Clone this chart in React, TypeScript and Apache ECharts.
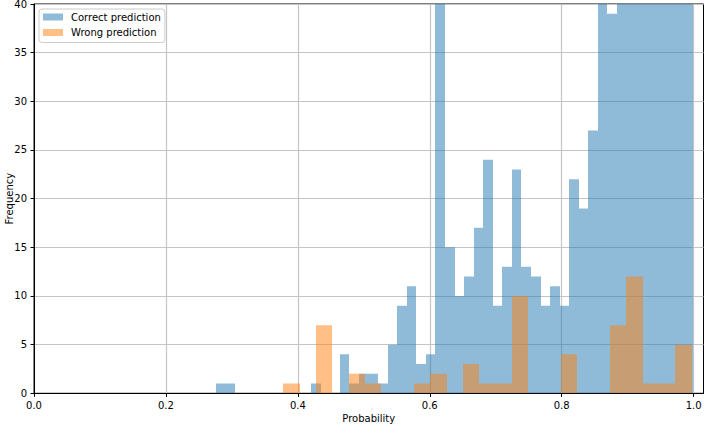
import React, { useEffect, useRef } from "react";
import * as echarts from "echarts";

// Histogram of "Correct prediction": 50 bins between blueRange[0] and blueRange[1]
const blueRange = [0.2755, 0.9996];
const blueCounts = [
  1, 1, 0, 0, 0, 0, 0, 0, 0, 0,
  1, 0, 0, 4, 1, 2, 2, 1, 5, 9,
  11, 3, 4, 44, 15, 10, 12, 17, 24, 9,
  13, 23, 13, 12, 9, 11, 9, 22, 19, 27,
  42, 39, 46, 55, 63, 78, 96, 124, 168, 260,
];

// Histogram of "Wrong prediction": 25 bins between orangeRange[0] and orangeRange[1]
const orangeRange = [0.3779, 0.9973];
const orangeCounts = [
  1, 0, 7, 0, 2, 1, 0, 0, 1, 2,
  0, 3, 1, 1, 10, 0, 0, 4, 0, 0,
  7, 12, 1, 1, 5,
];

const seriesNames = ["Correct prediction", "Wrong prediction"];
const xTicks = [0, 0.2, 0.4, 0.6, 0.8, 1.0];
const xMax = 1.015;
const yMax = 40;

const BLUE = "rgba(31,119,180,0.5)";
const ORANGE = "rgba(255,127,14,0.5)";
const FONT = "DejaVu Sans";
const GRID = "#c4c4c4";

function binsOf(range: number[], counts: number[]) {
  const n = counts.length;
  const w = (range[1] - range[0]) / n;
  return counts.map((c, i) => [range[0] + i * w, range[0] + (i + 1) * w, c]);
}

function makeRender(color: string) {
  return (params: any, api: any) => {
    const lo = api.value(0);
    const hi = api.value(1);
    const n = api.value(2);
    if (!n) return { type: "group", children: [] };
    const p0 = api.coord([lo, 0]);
    const p1 = api.coord([hi, Math.min(n, yMax)]);
    const x0 = Math.round(p0[0]);
    const x1 = Math.round(p1[0]);
    return {
      type: "rect",
      shape: { x: x0, y: p1[1], width: x1 - x0, height: p0[1] - p1[1] },
      style: { fill: color },
    };
  };
}

export default function App() {
  const ref = useRef<HTMLDivElement>(null);
  useEffect(() => {
    if (!ref.current) return;
    const chart = echarts.init(ref.current, null, { renderer: "svg" });
    chart.setOption({
      animation: false,
      backgroundColor: "#ffffff",
      textStyle: { fontFamily: FONT },
      grid: {
        left: 34,
        right: 4.5,
        top: 4,
        bottom: 32.7,
        containLabel: false,
        outerBoundsMode: "none",
        show: true,
        borderColor: "#000",
        borderWidth: 1,
        backgroundColor: "transparent",
      },
      legend: {
        orient: "vertical",
        left: 39,
        top: 9,
        padding: [2, 4, 4, 4],
        itemGap: 3.5,
        itemWidth: 20,
        itemHeight: 7,
        itemStyle: { borderWidth: 0 },
        icon: "rect",
        backgroundColor: "rgba(255,255,255,0.8)",
        borderColor: "#cccccc",
        borderWidth: 1,
        borderRadius: 3,
        textStyle: { fontFamily: FONT, fontSize: 10, color: "#000", lineHeight: 12, padding: [0, 0, 0, 3] },
        data: [
          { name: seriesNames[0], itemStyle: { color: BLUE } },
          { name: seriesNames[1], itemStyle: { color: ORANGE } },
        ],
      },
      xAxis: {
        type: "value",
        min: 0,
        max: xMax,
        interval: 0.2,
        name: "Probability",
        nameLocation: "middle",
        nameGap: 20,
        nameMoveOverlap: false,
        nameTextStyle: { fontFamily: FONT, fontSize: 10, color: "#000" },
        axisLine: { show: true, lineStyle: { color: "#000", width: 1 } },
        axisTick: { show: true, length: 3.5, lineStyle: { color: "#000" }, customValues: xTicks },
        axisLabel: {
          fontFamily: FONT,
          fontSize: 10,
          color: "#000",
          margin: 7,
          customValues: xTicks,
          formatter: (v: number) => v.toFixed(1),
        },
        splitLine: { show: true, lineStyle: { color: GRID, width: 1.2 } },
      },
      yAxis: {
        type: "value",
        min: 0,
        max: yMax,
        interval: 5,
        name: "Frequency",
        nameLocation: "middle",
        nameGap: 20,
        nameMoveOverlap: false,
        nameTextStyle: { fontFamily: FONT, fontSize: 10, color: "#000" },
        axisLine: { show: true, lineStyle: { color: "#000", width: 1 } },
        axisTick: { show: true, length: 3.5, lineStyle: { color: "#000" } },
        axisLabel: { fontFamily: FONT, fontSize: 10, color: "#000", margin: 7 },
        splitLine: { show: true, lineStyle: { color: GRID, width: 1.2 } },
      },
      series: [
        {
          name: seriesNames[0],
          type: "custom",
          clip: true,
          itemStyle: { color: BLUE },
          encode: { x: [0, 1], y: 2 },
          data: binsOf(blueRange, blueCounts),
          renderItem: makeRender(BLUE),
        },
        {
          name: seriesNames[1],
          type: "custom",
          clip: true,
          itemStyle: { color: ORANGE },
          encode: { x: [0, 1], y: 2 },
          data: binsOf(orangeRange, orangeCounts),
          renderItem: makeRender(ORANGE),
        },
      ],
    });
    return () => chart.dispose();
  }, []);
  return (
    <div
      ref={ref}
      style={{ position: "absolute", left: 0, top: 0, width: 708, height: 426 }}
    />
  );
}
